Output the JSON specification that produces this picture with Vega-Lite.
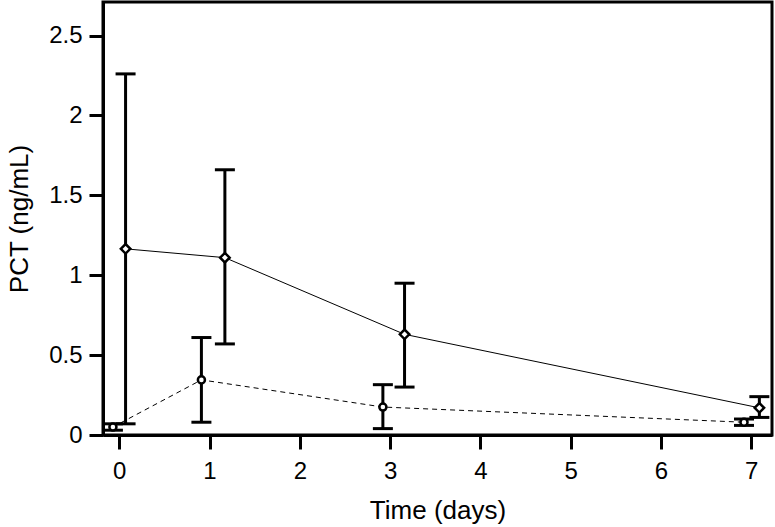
{
  "$schema": "https://vega.github.io/schema/vega-lite/v6.json",
  "width": 669,
  "height": 433,
  "autosize": {"type": "none"},
  "padding": {"left": 103, "top": 2, "right": 3, "bottom": 92},
  "background": "white",
  "config": {
    "view": {"stroke": "black", "strokeWidth": 3},
    "font": "Liberation Sans",
    "axis": {
      "grid": false,
      "domainColor": "black",
      "domainWidth": 3,
      "tickColor": "black",
      "tickWidth": 3,
      "tickSize": 14,
      "labelColor": "black",
      "labelFont": "Liberation Sans",
      "labelFontSize": 24,
      "titleFont": "Liberation Sans",
      "titleFontSize": 26,
      "titleFontWeight": "normal",
      "titleColor": "black"
    }
  },
  "data": {
    "values": [
      {"series": "A", "day": 0.07, "pct": 1.165, "lo": 0.07, "hi": 2.26},
      {"series": "A", "day": 1.17, "pct": 1.11, "lo": 0.57, "hi": 1.66},
      {"series": "A", "day": 3.16, "pct": 0.63, "lo": 0.30, "hi": 0.95},
      {"series": "A", "day": 7.09, "pct": 0.17, "lo": 0.11, "hi": 0.24},
      {"series": "B", "day": -0.07, "pct": 0.05, "lo": 0.03, "hi": 0.07},
      {"series": "B", "day": 0.91, "pct": 0.345, "lo": 0.08, "hi": 0.61},
      {"series": "B", "day": 2.92, "pct": 0.175, "lo": 0.04, "hi": 0.315},
      {"series": "B", "day": 6.92, "pct": 0.08, "lo": 0.06, "hi": 0.10}
    ]
  },
  "encoding": {
    "x": {
      "field": "day", "type": "quantitative",
      "scale": {"domain": [-0.18, 7.23], "nice": false, "zero": false},
      "axis": {"values": [0, 1, 2, 3, 4, 5, 6, 7], "title": "Time (days)", "labelPadding": 10, "titlePadding": 14}
    }
  },
  "layer": [
    {
      "mark": {"type": "line", "color": "black", "strokeWidth": 1},
      "transform": [{"filter": "datum.series == 'A'"}],
      "encoding": {
        "y": {"field": "pct", "type": "quantitative",
          "scale": {"domain": [0, 2.71], "nice": false},
          "axis": {"values": [0, 0.5, 1, 1.5, 2, 2.5], "format": ".1~f", "title": "PCT (ng/mL)", "labelPadding": 7, "titlePadding": 16}}
      }
    },
    {
      "mark": {"type": "line", "color": "black", "strokeWidth": 1, "strokeDash": [5, 4]},
      "transform": [{"filter": "datum.series == 'B'"}],
      "encoding": {"y": {"field": "pct", "type": "quantitative"}}
    },
    {
      "mark": {"type": "rule", "color": "black", "strokeWidth": 3},
      "encoding": {"y": {"field": "lo", "type": "quantitative"}, "y2": {"field": "hi"}}
    },
    {
      "mark": {"type": "tick", "color": "black", "opacity": 1, "thickness": 3, "size": 20, "orient": "horizontal"},
      "encoding": {"y": {"field": "lo", "type": "quantitative"}}
    },
    {
      "mark": {"type": "tick", "color": "black", "opacity": 1, "thickness": 3, "size": 20, "orient": "horizontal"},
      "encoding": {"y": {"field": "hi", "type": "quantitative"}}
    },
    {
      "mark": {"type": "point", "shape": "diamond", "filled": true, "fill": "white", "stroke": "black", "strokeWidth": 2.5, "size": 90, "opacity": 1},
      "transform": [{"filter": "datum.series == 'A'"}],
      "encoding": {"y": {"field": "pct", "type": "quantitative"}}
    },
    {
      "mark": {"type": "point", "shape": "circle", "filled": true, "fill": "white", "stroke": "black", "strokeWidth": 2.5, "size": 50, "opacity": 1},
      "transform": [{"filter": "datum.series == 'B'"}],
      "encoding": {"y": {"field": "pct", "type": "quantitative"}}
    }
  ]
}
